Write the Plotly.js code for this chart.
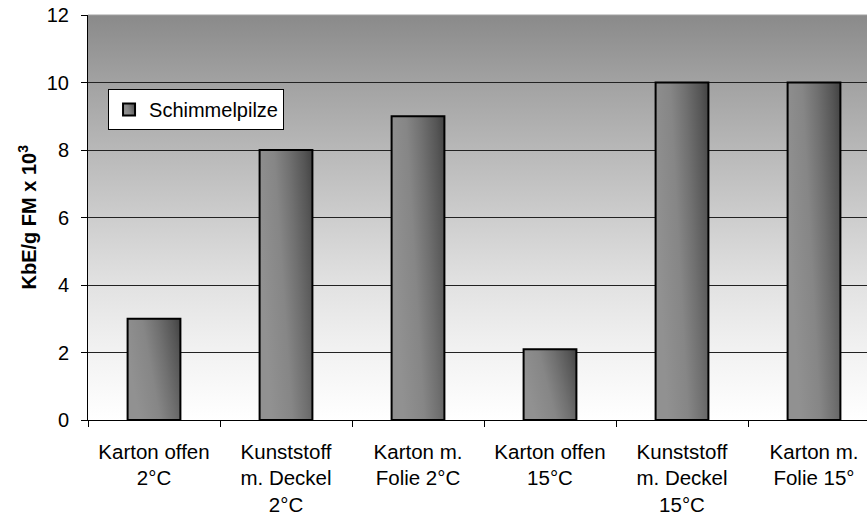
<!DOCTYPE html>
<html>
<head>
<meta charset="utf-8">
<script src="https://cdn.plot.ly/plotly-3.0.1.min.js"></script>
<style>
html,body{margin:0;padding:0;overflow:hidden;background:#fff;width:867px;height:515px;}
#chart{width:900px;height:515px;}
</style>
</head>
<body>
<div id="chart"></div>
<script>
const categories = ["Karton offen<br>2°C", "Kunststoff<br>m. Deckel<br>2°C", "Karton m.<br>Folie 2°C", "Karton offen<br>15°C", "Kunststoff<br>m. Deckel<br>15°C", "Karton m.<br>Folie 15°"];
const values = [3, 8, 9, 2.1, 10, 10];
const seriesName = "Schimmelpilze";
const yTickVals = [0, 2, 4, 6, 8, 10, 12];
const yTitle = "KbE/g FM x 10<sup>3</sup>";

const FONT = "Arial, 'Liberation Sans', sans-serif";

const bgSvg = "<svg xmlns='http://www.w3.org/2000/svg' width='10' height='100' viewBox='0 0 10 100' preserveAspectRatio='none'><defs><linearGradient id='g' x1='0' y1='0' x2='0' y2='1'>" +
  "<stop offset='0' stop-color='#8a8a8a'/><stop offset='0.167' stop-color='#a2a2a2'/><stop offset='0.333' stop-color='#b8b8b8'/>" +
  "<stop offset='0.5' stop-color='#cdcdcd'/><stop offset='0.667' stop-color='#e2e2e2'/><stop offset='0.833' stop-color='#f2f2f2'/><stop offset='1' stop-color='#ffffff'/>" +
  "</linearGradient></defs><rect x='0' y='0' width='10' height='100' fill='url(#g)'/></svg>";

const trace = {
  type: 'bar',
  x: categories,
  y: values,
  name: seriesName,
  showlegend: true,
  marker: {color: '#7a7a7a', line: {color: '#000', width: 2}},
  hoverinfo: 'none'
};

const layout = {
  width: 900, height: 515,
  margin: {l: 88, r: 20, t: 15, b: 95},
  paper_bgcolor: '#fff',
  plot_bgcolor: '#fff',
  font: {family: FONT, size: 20, color: '#000'},
  bargap: 0.6,
  showlegend: true,
  legend: {
    x: 0.0253, y: 0.817, xanchor: 'left', yanchor: 'top',
    bgcolor: '#fff', bordercolor: '#000', borderwidth: 1,
    font: {family: FONT, size: 20, color: '#000'},
    itemwidth: 30
  },
  xaxis: {
    type: 'category',
    range: [-0.5, 5.5],
    tickson: 'boundaries',
    ticks: 'outside', ticklen: 6, tickcolor: '#000', tickwidth: 1,
    showline: true, linecolor: '#000', linewidth: 1,
    showgrid: false, zeroline: false,
    tickfont: {family: FONT, size: 20.5, color: '#000'},
    ticklabelstandoff: 13
  },
  yaxis: {
    range: [0, 12],
    tickvals: yTickVals,
    ticktext: yTickVals.map(String),
    ticks: 'outside', ticklen: 6, tickcolor: '#000', tickwidth: 1,
    showline: true, linecolor: '#000', linewidth: 1,
    showgrid: true, gridcolor: '#222', gridwidth: 1,
    zeroline: false,
    tickfont: {family: FONT, size: 20, color: '#000'},
    ticklabelstandoff: 8
  },
  images: [{
    source: 'data:image/svg+xml;charset=utf-8,' + encodeURIComponent(bgSvg),
    xref: 'paper', yref: 'paper', x: 0, y: 1, sizex: 1, sizey: 1,
    xanchor: 'left', yanchor: 'top', sizing: 'stretch', layer: 'below'
  }],
  shapes: [{
    type: 'line', xref: 'paper', yref: 'paper', x0: 0, x1: 1, y0: 1, y1: 1,
    line: {color: '#a0a0a0', width: 1}
  }],
  annotations: [{
    text: yTitle,
    xref: 'paper', yref: 'paper', x: -0.077, y: 0.5,
    xanchor: 'center', yanchor: 'middle',
    textangle: -90, showarrow: false,
    font: {family: FONT, size: 20, color: '#000', weight: 'bold'}
  }]
};

function applyGradients(gd) {
  const NS = 'http://www.w3.org/2000/svg';
  const svg = gd.querySelector('svg.main-svg');
  let defs = svg.querySelector('defs');
  if (!defs) { defs = document.createElementNS(NS, 'defs'); svg.insertBefore(defs, svg.firstChild); }
  const lg = document.createElementNS(NS, 'linearGradient');
  lg.setAttribute('id', 'barGrad');
  lg.setAttribute('x1', '0'); lg.setAttribute('y1', '0.35');
  lg.setAttribute('x2', '1'); lg.setAttribute('y2', '0');
  [[0, '#919191'], [0.35, '#868686'], [0.6, '#707070'], [0.85, '#565656'], [1, '#424242']].forEach(([o, c]) => {
    const s = document.createElementNS(NS, 'stop');
    s.setAttribute('offset', o); s.setAttribute('stop-color', c);
    lg.appendChild(s);
  });
  defs.appendChild(lg);
  gd.querySelectorAll('.barlayer .point path').forEach(p => { p.style.fill = 'url(#barGrad)'; });
  gd.querySelectorAll('.legend .legendpoints path').forEach(p => { p.style.fill = 'url(#barGrad)'; });
}

Plotly.newPlot('chart', [trace], layout, {displayModeBar: false, staticPlot: true}).then(applyGradients);
</script>
</body>
</html>
